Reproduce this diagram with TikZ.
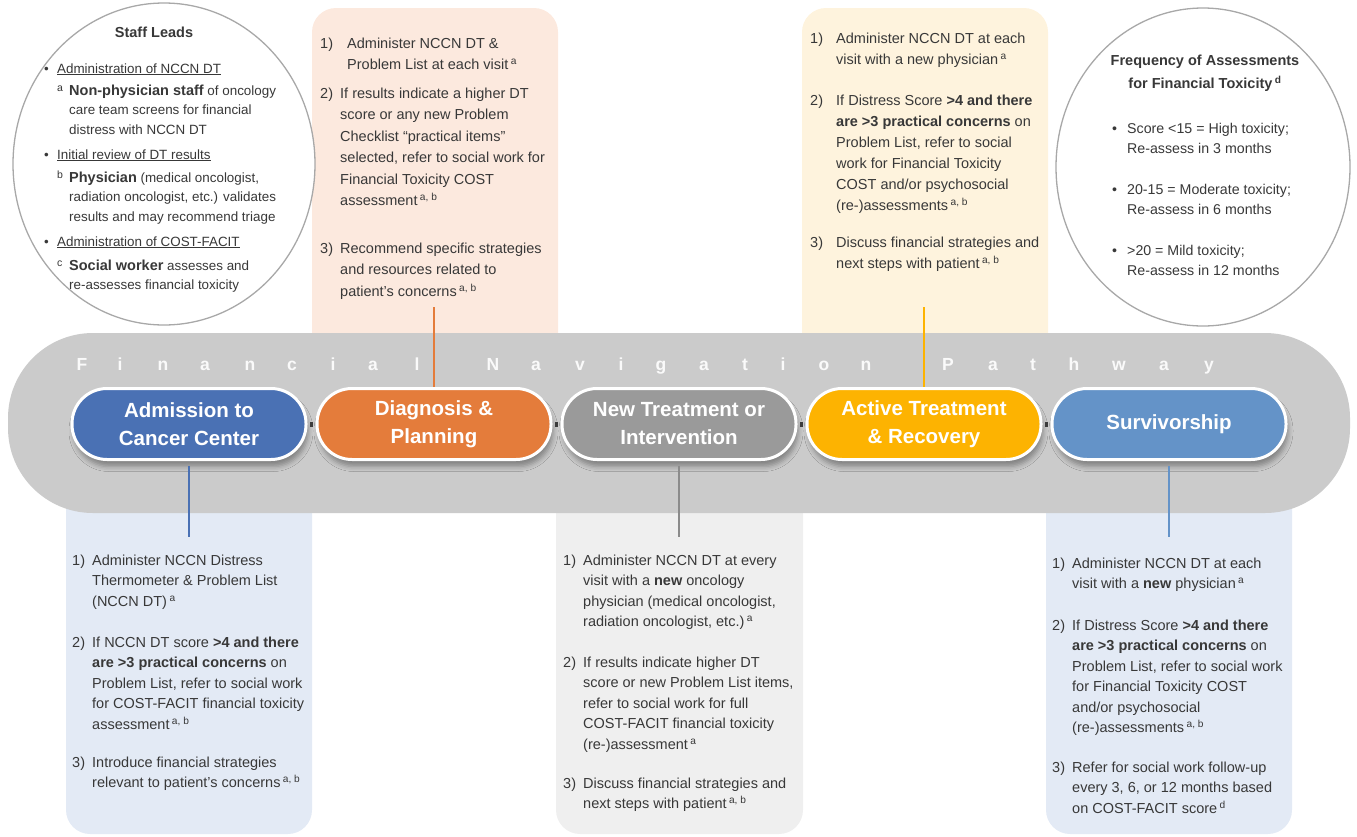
\documentclass[tikz,border=0pt]{standalone}
\usepackage{fontspec}
\setmainfont{Liberation Sans}
\usetikzlibrary{shadows.blur,shapes.geometric}

\definecolor{ink}{HTML}{383838}
\definecolor{bandgray}{HTML}{CBCBCB}
\definecolor{ringgray}{HTML}{A8A8A8}
\definecolor{stageblue}{HTML}{4A71B4}
\definecolor{stageorange}{HTML}{E47C3B}
\definecolor{stagegray}{HTML}{9A9A9A}
\definecolor{stagegold}{HTML}{FDB301}
\definecolor{stagesky}{HTML}{6493C8}
\definecolor{peach}{HTML}{FCE9DE}
\definecolor{cream}{HTML}{FEF3DD}
\definecolor{ice}{HTML}{E3EAF5}
\definecolor{mist}{HTML}{EFEFEF}
\definecolor{linkgray}{HTML}{3C3C3C}

% footnote marks a, b, c, d
\newcommand{\fnote}[1]{\,\textsuperscript{#1}}
\newcommand{\lead}[1]{{\fontsize{14.5}{19.5}\selectfont\bfseries #1}}
\newcommand{\role}[1]{\raisebox{4pt}{\fontsize{10.5}{12}\selectfont #1}}

\tikzset{
  stage/.style={rectangle, rounded corners=35pt, minimum width=234pt, minimum height=71pt,
    draw=white, line width=3pt, text=white, align=center,
    font=\fontsize{20.5}{28}\selectfont\bfseries,
    blur shadow={shadow xshift=2pt, shadow yshift=-7pt, shadow blur radius=5pt, shadow opacity=35}},
  panel/.style={rounded corners=24pt},
  steps/.style={anchor=north west, inner sep=0pt, text=ink},
  stem/.style={line width=2.5pt},
  link/.style={line width=5pt, draw=linkgray, shorten <=2.5pt, shorten >=2.5pt},
  track/.style={anchor=base, text=white!96!gray, font=\fontsize{17.5}{20}\selectfont\bfseries},
  ring/.style={ellipse, draw=ringgray, line width=1.3pt, fill=white, inner sep=0pt},
}

\begin{document}
\begin{tikzpicture}[x=1pt,y=-1pt]
  \useasboundingbox (0,0) rectangle (1357,836);

  % panels that sit behind the band
  \fill[peach, panel] (312,8) rectangle (558,380);
  \fill[cream, panel] (802,8) rectangle (1048,380);
  \fill[ice, panel] (66,470) rectangle (312,834);
  \fill[mist, panel] (556,470) rectangle (803,834);
  \fill[ice, panel] (1046,470) rectangle (1292,834);

  % the two circles
  \node[ring, minimum width=302pt, minimum height=322pt] (leads) at (164,164) {};
  \node[ring, minimum width=294pt, minimum height=318pt] (freq) at (1203,167) {};

  % pathway band
  \fill[bandgray, rounded corners=85pt] (8,333) rectangle (1350,513);
  \foreach \x/\l in {82/F,120/i,163/n,205/a,250/n,292/c,333/i,373/a,417/l,
      493/N,536/a,580/v,621/i,661/g,704/a,745/t,783/i,824/o,866/n,
      948/P,993/a,1033/t,1074/h,1119/w,1164/a,1209/y}
    \node[track] (ch\x) at (\x,370) {\l};

  % stages
  \node[stage, fill=stageblue] (admit) at (189,424) {Admission to\\Cancer Center};
  \node[stage, fill=stageorange] (diag) at (434,424) {Diagnosis \&\\Planning};
  \node[stage, fill=stagegray] (newtx) at (679,424) {New Treatment or\\Intervention};
  \node[stage, fill=stagegold] (active) at (924,424) {Active Treatment\\\& Recovery};
  \node[stage, fill=stagesky] (surv) at (1169,424) {Survivorship};
  \foreach \a/\b in {admit/diag,diag/newtx,newtx/active,active/surv}
    \draw[link] (\a) -- (\b);

  % stems to the panels
  \coordinate (diagstem) at (434,307);
  \coordinate (activestem) at (924,307);
  \coordinate (admitstem) at (189,537);
  \coordinate (newtxstem) at (679,537);
  \coordinate (survstem) at (1169,537);
  \draw[stem, draw=stageorange] (diagstem) -- (diag);
  \draw[stem, draw=stagegold] (activestem) -- (active);
  \draw[stem, draw=stageblue, shorten <=5pt] (admit) -- (admitstem);
  \draw[stem, draw=stagegray!90!black, shorten <=5pt] (newtx) -- (newtxstem);
  \draw[stem, draw=stagesky, shorten <=5pt] (surv) -- (survstem);

  % staff leads
  \node[font=\fontsize{14.5}{18}\selectfont\bfseries, text=ink] (leadstitle) at (154,32) {Staff Leads};
  \node[steps, font=\fontsize{13.4}{19.5}\selectfont] (leadsroles) at (44,59.2) {%
    \begin{tabular}{@{}p{13pt}@{}p{12pt}@{}l@{}}
      \textbullet & \multicolumn{2}{@{}l@{}}{\underline{Administration of NCCN DT}}\\[2.5pt]
       & \role{a} & \lead{Non-physician staff} of oncology\\
       & & care team screens for financial\\
       & & distress with NCCN DT\\[5.5pt]
      \textbullet & \multicolumn{2}{@{}l@{}}{\underline{Initial review of DT results}}\\[3.5pt]
       & \role{b} & \lead{Physician} (medical oncologist,\\
       & & radiation oncologist, etc.) validates\\
       & & results and may recommend triage\\[5.5pt]
      \textbullet & \multicolumn{2}{@{}l@{}}{\underline{Administration of COST-FACIT}}\\[4.5pt]
       & \role{c} & \lead{Social worker} assesses and\\
       & & re-assesses financial toxicity
    \end{tabular}};

  % assessment frequency
  \node[font=\fontsize{14.5}{23}\selectfont\bfseries, text=ink, align=center] (freqtitle) at (1205,73.5)
    {Frequency of Assessments\\for Financial Toxicity\fnote{d}};
  \node[steps, font=\fontsize{14.2}{20}\selectfont] (freqbands) at (1112,119) {%
    \begin{tabular}{@{}p{15pt}@{}l@{}}
      \textbullet & Score <15 = High toxicity;\\
       & Re-assess in 3 months\\[21pt]
      \textbullet & 20-15 = Moderate toxicity;\\
       & Re-assess in 6 months\\[21pt]
      \textbullet & >20 = Mild toxicity;\\
       & Re-assess in 12 months
    \end{tabular}};

  % steps per stage
  \node[steps, font=\fontsize{14.5}{21.5}\selectfont] (diagsteps) at (320,33.2) {%
    \begin{tabular}{@{}p{20pt}@{}l@{}}
      1) & \hspace{7pt}Administer NCCN DT \&\\
       & \hspace{7pt}Problem List at each visit\fnote{a}\\[7pt]
      2) & If results indicate a higher DT\\
       & score or any new Problem\\
       & Checklist “practical items”\\
       & selected, refer to social work for\\
       & Financial Toxicity COST\\
       & assessment\fnote{a, b}\\[26pt]
      3) & Recommend specific strategies\\
       & and resources related to\\
       & patient's concerns\fnote{a, b}
    \end{tabular}};

  \node[steps, font=\fontsize{14.5}{21}\selectfont] (activesteps) at (810,28.5) {%
    \begin{tabular}{@{}p{26pt}@{}l@{}}
      1) & Administer NCCN DT at each\\
       & visit with a new physician\fnote{a}\\[20pt]
      2) & If Distress Score \textbf{>4 and there}\\
       & \textbf{are >3 practical concerns} on\\
       & Problem List, refer to social\\
       & work for Financial Toxicity\\
       & COST and/or psychosocial\\
       & (re-)assessments\fnote{a, b}\\[16pt]
      3) & Discuss financial strategies and\\
       & next steps with patient\fnote{a, b}
    \end{tabular}};

  \node[steps, font=\fontsize{14.5}{20.5}\selectfont] (admitsteps) at (72,550.8) {%
    \begin{tabular}{@{}p{20pt}@{}l@{}}
      1) & Administer NCCN Distress\\
       & Thermometer \& Problem List\\
       & (NCCN DT)\fnote{a}\\[20.5pt]
      2) & If NCCN DT score \textbf{>4 and there}\\
       & \textbf{are >3 practical concerns} on\\
       & Problem List, refer to social work\\
       & for COST-FACIT financial toxicity\\
       & assessment\fnote{a, b}\\[17.5pt]
      3) & Introduce financial strategies\\
       & relevant to patient's concerns\fnote{a, b}
    \end{tabular}};

  \node[steps, font=\fontsize{14.5}{20.5}\selectfont] (newtxsteps) at (563,550.8) {%
    \begin{tabular}{@{}p{20pt}@{}l@{}}
      1) & Administer NCCN DT at every\\
       & visit with a \textbf{new} oncology\\
       & physician (medical oncologist,\\
       & radiation oncologist, etc.)\fnote{a}\\[20pt]
      2) & If results indicate higher DT\\
       & score or new Problem List items,\\
       & refer to social work for full\\
       & COST-FACIT financial toxicity\\
       & (re-)assessment\fnote{a}\\[18.5pt]
      3) & Discuss financial strategies and\\
       & next steps with patient\fnote{a, b}
    \end{tabular}};

  \node[steps, font=\fontsize{14.5}{20.5}\selectfont] (survsteps) at (1052,553.8) {%
    \begin{tabular}{@{}p{20pt}@{}l@{}}
      1) & Administer NCCN DT at each\\
       & visit with a \textbf{new} physician\fnote{a}\\[21pt]
      2) & If Distress Score \textbf{>4 and there}\\
       & \textbf{are >3 practical concerns} on\\
       & Problem List, refer to social work\\
       & for Financial Toxicity COST\\
       & and/or psychosocial\\
       & (re-)assessments\fnote{a, b}\\[19pt]
      3) & Refer for social work follow-up\\
       & every 3, 6, or 12 months based\\
       & on COST-FACIT score\fnote{d}
    \end{tabular}};
\end{tikzpicture}
\end{document}
